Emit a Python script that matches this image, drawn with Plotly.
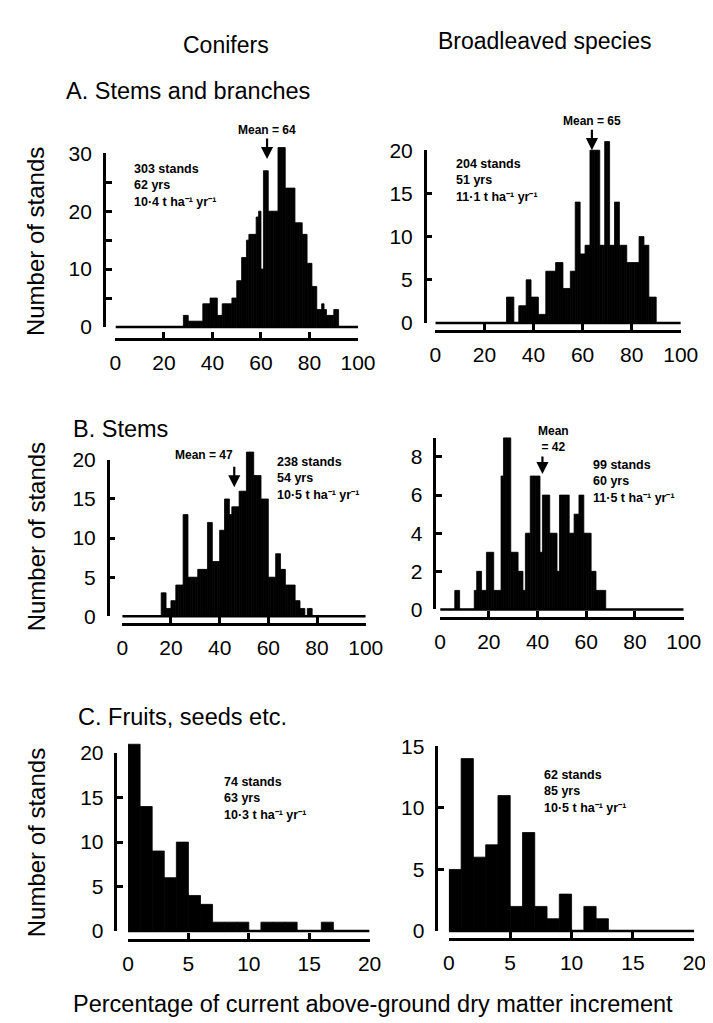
import plotly.graph_objects as go

W, H = 713, 1023
FONT = "Liberation Sans, Arial, Helvetica, sans-serif"

# ---------------- data (counts per 1 % class) ----------------
a_con_start = 28
a_con_counts = [2, 2, 1, 1, 1, 1, 1, 1, 4, 4, 4, 5, 5, 5, 2, 2, 4, 4, 4, 4, 5, 5, 8, 8,
                12, 12, 15, 16, 16, 16, 19, 20, 10, 27, 27, 20, 20, 20, 20, 31, 31, 31,
                24, 24, 24, 24, 18, 18, 18, 16, 16, 11, 11, 7, 7, 3, 3, 4, 3, 2, 2, 2, 3, 3]

a_brd_start = 29
a_brd_counts = [3, 3, 3, 0, 0, 2, 2, 2, 5, 5, 3, 3, 3, 1, 1, 1, 6, 6, 6, 6, 7, 7, 7, 4,
                4, 4, 6, 6, 14, 14, 8, 8, 9, 9, 20, 20, 20, 20, 9, 9, 21, 21, 9, 9, 14, 14,
                9, 9, 9, 7, 7, 7, 7, 7, 10, 10, 9, 9, 3, 3, 3]

b_con_start = 16
b_con_counts = [3, 3, 1, 1, 2, 2, 4, 4, 4, 13, 13, 5, 5, 5, 5, 6, 6, 6, 6, 12, 12, 7, 7,
                7, 11, 11, 15, 15, 13, 14, 14, 14, 16, 16, 16, 21, 21, 21, 18, 18, 18, 15,
                15, 15, 5, 5, 5, 8, 8, 6, 6, 4, 4, 4, 4, 2, 2, 1, 1, 0, 1, 1]

b_brd_start = 6
b_brd_counts = [1, 1, 0, 0, 0, 0, 0, 0, 1, 2, 2, 1, 1, 3, 3, 3, 1, 1, 1, 7, 9, 9, 9, 3,
                3, 3, 2, 2, 1, 4, 4, 7, 7, 7, 7, 3, 6, 6, 6, 4, 4, 4, 2, 6, 6, 6, 6, 4, 4,
                5, 5, 6, 6, 4, 4, 4, 2, 2, 1, 1, 1, 1]

c_con_start = 0
c_con_counts = [21, 14, 9, 6, 10, 4, 3, 1, 1, 1, 0, 1, 1, 1, 0, 0, 1]

c_brd_start = 0
c_brd_counts = [5, 14, 6, 7, 11, 2, 8, 2, 1, 3, 0, 2, 1]

# tick values
x_ticks_100 = [0, 20, 40, 60, 80, 100]
x_ticks_20 = [0, 5, 10, 15, 20]
y_ticks_a_con = [0, 10, 20, 30]
y_minor_a_con = [5, 15, 25]
y_ticks_20 = [0, 5, 10, 15, 20]
y_ticks_b_brd = [0, 2, 4, 6, 8]
y_ticks_15 = [0, 5, 10, 15]

# panel texts
stats_texts = [
    "303 stands<br>62 yrs<br>10·4 t ha⁻¹ yr⁻¹",
    "204 stands<br>51 yrs<br>11·1 t ha⁻¹ yr⁻¹",
    "238 stands<br>54 yrs<br>10·5 t ha⁻¹ yr⁻¹",
    "99 stands<br>60 yrs<br>11·5 t ha⁻¹ yr⁻¹",
    "74 stands<br>63 yrs<br>10·3 t ha⁻¹ yr⁻¹",
    "62 stands<br>85 yrs<br>10·5 t ha⁻¹ yr⁻¹",
]
mean_texts = ["Mean = 64", "Mean = 65", "Mean = 47", "Mean<br>= 42", None, None]

# ---------------- layout geometry (pixels / placement) ----------------
# arrow: (x as drawn, tip y, length px); label: (x, y) centre in data units
panels = [
    dict(start=a_con_start, counts=a_con_counts, xmax=100, x0=105, x1=356, y0=314, ppu=5.92,
         ytop=30, yx=93, bracket=326, xt=x_ticks_100, yt=y_ticks_a_con, ym=y_minor_a_con,
         stat=(6.8, 28.9), arrow=(62.5, 29.0, 22), label=(62.5, 34.1)),
    dict(start=a_brd_start, counts=a_brd_counts, xmax=100, x0=436, x1=690, y0=310, ppu=8.84,
         ytop=20, yx=425, bracket=318, xt=x_ticks_100, yt=y_ticks_20, ym=None,
         stat=(7.5, 19.5), arrow=(63.8, 20.0, 22), label=(63.8, 23.4)),
    dict(start=b_con_start, counts=b_con_counts, xmax=100, x0=112, x1=364, y0=610, ppu=8.0,
         ytop=20, yx=97, bracket=618, xt=x_ticks_100, yt=y_ticks_20, ym=None,
         stat=(62.7, 20.9), arrow=(46.0, 16.5, 22), label=(33.5, 20.6)),
    dict(start=b_brd_start, counts=b_brd_counts, xmax=100, x0=441, x1=693, y0=603, ppu=19.5,
         ytop=9, yx=435, bracket=612, xt=x_ticks_100, yt=y_ticks_b_brd, ym=None,
         stat=(61.9, 8.05), arrow=(42.0, 7.1, 19), label=(46.4, 8.95)),
    dict(start=c_con_start, counts=c_con_counts, xmax=20, x0=118, x1=368, y0=932, ppu=9.1,
         ytop=20, yx=105, bracket=941, xt=x_ticks_20, yt=y_ticks_20, ym=None,
         stat=(7.8, 17.8), arrow=None, label=None),
    dict(start=c_brd_start, counts=c_brd_counts, xmax=20, x0=450, x1=704, y0=932, ppu=12.6,
         ytop=15, yx=437, bracket=940, xt=x_ticks_20, yt=y_ticks_15, ym=None,
         stat=(7.6, 13.4), arrow=None, label=None),
]

fig = go.Figure()
layout = dict(width=W, height=H, margin=dict(l=0, r=0, t=0, b=0),
              paper_bgcolor="white", plot_bgcolor="rgba(0,0,0,0)",
              showlegend=False, annotations=[])

axis_common = dict(showgrid=False, zeroline=False, showline=True, linecolor="black",
                   linewidth=2.5, ticks="inside", ticklen=6, tickwidth=2.5,
                   tickcolor="black", fixedrange=True,
                   tickfont=dict(family=FONT, size=21, color="black"))

for i, p in enumerate(panels, start=1):
    xa, ya, yd = f"x{i}", f"y{i}", f"y{i + 6}"
    xs = [p["start"] + k + 0.5 for k in range(len(p["counts"]))]
    fig.add_trace(go.Bar(x=xs, y=p["counts"], width=[1.0] * len(xs),
                         marker=dict(color="black", line=dict(color="black", width=0.8)),
                         xaxis=xa, yaxis=yd, hoverinfo="skip"))
    fig.add_trace(go.Scatter(x=[0, p["xmax"]], y=[0, 0], mode="lines",
                             line=dict(color="black", width=2.5),
                             xaxis=xa, yaxis=yd, hoverinfo="skip"))
    fig.add_trace(go.Scatter(x=[None], y=[None], mode="markers", xaxis=xa, yaxis=ya,
                             hoverinfo="skip"))

    ppu = p["ppu"]
    lo = -4.0 / ppu
    hi = p["ytop"] + 60.0 / ppu
    xkey = "xaxis" if i == 1 else f"xaxis{i}"
    layout[xkey] = dict(axis_common, domain=[p["x0"] / W, p["x1"] / W],
                        range=[0, p["xmax"]], anchor="free",
                        position=1 - p["bracket"] / H,
                        tickvals=p["xt"], ticklabelstandoff=4)
    ykey = "yaxis" if i == 1 else f"yaxis{i}"
    ydict = dict(axis_common, domain=[1 - p["y0"] / H, 1 - (p["y0"] - p["ytop"] * ppu) / H],
                 range=[0, p["ytop"]], anchor="free", position=p["yx"] / W,
                 tickvals=p["yt"], ticklabelstandoff=7)
    if p["ym"] is not None:
        ydict["minor"] = dict(tickvals=p["ym"], ticks="inside", ticklen=6,
                              tickwidth=2.5, tickcolor="black", showgrid=False)
    layout[ykey] = ydict
    layout[f"yaxis{i + 6}"] = dict(domain=[1 - (p["y0"] - lo * ppu) / H,
                                           1 - (p["y0"] - hi * ppu) / H],
                                   range=[lo, hi], anchor=xa, visible=False,
                                   fixedrange=True)

    sx, sy = p["stat"]
    layout["annotations"].append(dict(
        x=sx, y=sy, xref=xa, yref=yd, text=stats_texts[i - 1], showarrow=False,
        xanchor="left", yanchor="top", align="left",
        font=dict(family=FONT, size=12.5, color="black", weight="bold")))
    if p["arrow"] is not None:
        mx, my, alen = p["arrow"]
        layout["annotations"].append(dict(
            x=mx, y=my, xref=xa, yref=yd, text="", showarrow=True,
            ax=0, ay=-alen, arrowhead=2, arrowsize=1.1, arrowwidth=2.2,
            arrowcolor="black"))
        lx, ly = p["label"]
        layout["annotations"].append(dict(
            x=lx, y=ly, xref=xa, yref=yd, text=mean_texts[i - 1], showarrow=False,
            xanchor="center", yanchor="middle", align="center",
            font=dict(family=FONT, size=12, color="black", weight="bold")))

# titles and axis labels (paper coordinates)
def ptext(text, xpx, ypx, size, xanchor="center", angle=0):
    layout["annotations"].append(dict(
        x=xpx / W, y=1 - ypx / H, xref="paper", yref="paper", text=text,
        showarrow=False, xanchor=xanchor, yanchor="middle", textangle=angle,
        font=dict(family=FONT, size=size, color="black")))

ptext("Conifers", 219, 26, 23)
ptext("Broadleaved species", 550, 21, 23)
ptext("A. Stems and branches", 52, 73, 23.5, xanchor="left")
ptext("B. Stems", 59, 418, 23.5, xanchor="left")
ptext("C. Fruits, seeds etc.", 64, 713, 23.5, xanchor="left")
for yc in (227, 529, 842):
    ptext("Number of stands", 23, yc, 24, angle=-90)
ptext("Percentage of current above-ground dry matter increment", 372, 1007, 23.5)

fig.update_layout(**layout)
fig.write_html("out.html")
